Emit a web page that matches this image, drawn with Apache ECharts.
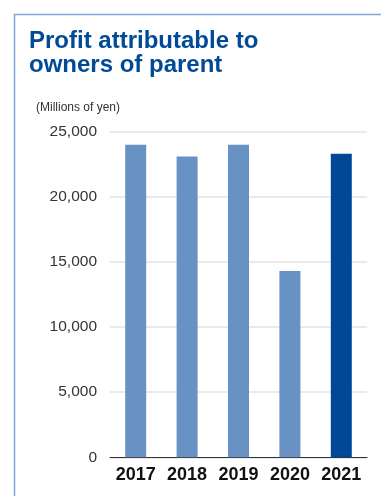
<!DOCTYPE html>
<html><head><meta charset="utf-8">
<script src="https://cdn.jsdelivr.net/npm/echarts@6/dist/echarts.min.js"></script>
<style>html,body{margin:0;padding:0;background:#fff}#c{width:381px;height:496px}</style>
</head><body><div id="c"></div>
<script>
var categories = ['2017', '2018', '2019', '2020', '2021'];
var profitValues = [24000, 23100, 24000, 14300, 23300];
var yTicks = [0, 5000, 10000, 15000, 20000, 25000];
var titleText = 'Profit attributable to\nowners of parent';
var unitText = '(Millions of yen)';

var chart = echarts.init(document.getElementById('c'), null, {renderer: 'canvas'});
var barData = profitValues.map(function (v, i) {
  return {value: v, itemStyle: {color: i === profitValues.length - 1 ? '#004896' : '#6892c3'}};
});
chart.setOption({
  animation: false,
  backgroundColor: '#fff',
  graphic: [{
    type: 'polyline', silent: true,
    shape: {points: [[14.5, 500], [14.5, 14.5], [390, 14.5]]},
    style: {stroke: '#7fa6d8', lineWidth: 1.5, fill: null}
  }],
  title: [{
    text: titleText, left: 24, top: 25,
    textStyle: {fontFamily: 'Liberation Sans, Arial, sans-serif', fontSize: 24, fontWeight: 'bold', color: '#004a98', lineHeight: 23.5}
  }, {
    text: unitText, left: 31, top: 97,
    textStyle: {fontFamily: 'Liberation Sans, Arial, sans-serif', fontSize: 12, fontWeight: 'normal', color: '#333'}
  }],
  grid: {left: 110, right: 14, top: 131.7, bottom: 38.7, containLabel: false},
  xAxis: {
    type: 'category', data: categories,
    axisLine: {lineStyle: {color: '#333', width: 1}},
    axisTick: {show: false},
    axisLabel: {interval: 0, fontFamily: 'Liberation Sans, Arial, sans-serif', fontSize: 18, fontWeight: 'bold', color: '#111', margin: 9}
  },
  yAxis: {
    type: 'value', min: yTicks[0], max: yTicks[yTicks.length - 1], interval: 5000,
    axisLine: {show: false}, axisTick: {show: false},
    splitLine: {lineStyle: {color: '#e3e3e3', width: 1.5}},
    axisLabel: {
      fontFamily: 'Liberation Sans, Arial, sans-serif', fontSize: 15.5, color: '#333', margin: 13,
      formatter: function (v) { return v.toLocaleString('en-US'); }
    }
  },
  series: [{type: 'bar', data: barData, barWidth: 21}]
});
</script></body></html>
